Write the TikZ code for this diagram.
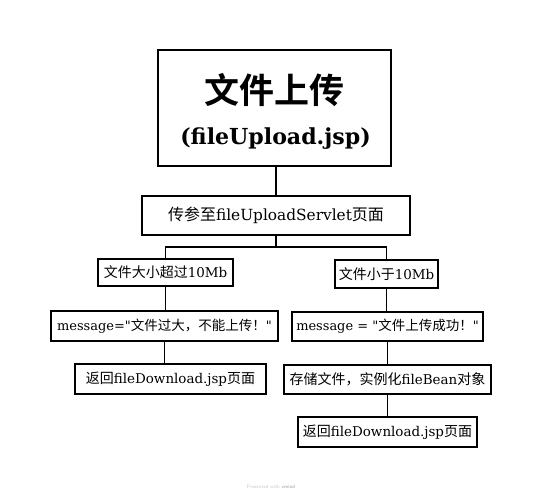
\documentclass[tikz,border=0pt]{standalone}
\usepackage{fontspec}
\setmainfont{DejaVu Serif}[Scale=0.96]
\newfontfamily\qfont{DejaVu Serif}[Scale=0.96,Ligatures=TeXOff]
\newfontfamily\cjk{Noto Sans CJK SC}
\newfontfamily\cjkbold{Noto Sans CJK SC Bold}
\newcommand{\zh}[1]{{\cjk #1}}
\newcommand{\dq}{{\qfont\symbol{34}}}
\begin{document}
\begin{tikzpicture}[x=1pt,y=-1pt,
  box/.style={draw=black, line width=1.7pt, inner sep=0pt, align=center, font=\fontsize{14}{17}\selectfont},
  msg/.style={font=\fontsize{13.5}{16}\selectfont},
  link/.style={draw=black, line width=1.7pt}]
\useasboundingbox (0,0) rectangle (542,498);
% top box
\node[box, line width=2pt, minimum width=233pt, minimum height=116pt] (top) at (274.5,108) {};
\node[font=\cjkbold\fontsize{35}{40}\selectfont] (title) at (274.5,90) {文件上传};
\node[font=\bfseries\fontsize{23}{26}\selectfont] (titlesub) at (275.5,139) {(fileUpload.jsp)};
% servlet
\node[box, minimum width=268pt, minimum height=39pt, font=\fontsize{16}{19}\selectfont] (servlet) at (276,215.5) {\zh{传参至}fileUploadServlet\zh{页面}};
\coordinate (sp) at (276,247);
% left
\node[box, minimum width=135pt, minimum height=27pt] (l1) at (165.5,272.5) {\zh{文件大小超过}10Mb};
\node[box, msg, minimum width=227pt, minimum height=30pt] (l2) at (164.5,326) {message=\dq\zh{文件过大，不能上传！}\dq};
\node[box, minimum width=191pt, minimum height=30pt] (l3) at (170.5,379) {\zh{返回}fileDownload.jsp\zh{页面}};
% right
\node[box, minimum width=103pt, minimum height=28pt] (r1) at (386.5,274) {\zh{文件小于}10Mb};
\node[box, msg, minimum width=191pt, minimum height=29pt] (r2) at (387.5,326.5) {message = \dq\zh{文件上传成功！}\dq};
\node[box, minimum width=207pt, minimum height=29pt] (r3) at (387.5,379.5) {\zh{存储文件，实例化}fileBean\zh{对象}};
\node[box, minimum width=179pt, minimum height=30pt] (r4) at (387.5,432) {\zh{返回}fileDownload.jsp\zh{页面}};
% connectors
\draw[link] (servlet.north |- top.south) -- (servlet.north);
\draw[link] (servlet.south) -- (sp);
\draw[link] (l1.north) |- (sp) -| (r1.north);
\draw[link] (l1.south) -- (l1.south |- l2.north);
\draw[link] (l2.south) -- (l2.south |- l3.north);
\draw[link] (r1.south) -- (r1.south |- r2.north);
\draw[link] (r2.south) -- (r2.south |- r3.north);
\draw[link] (r3.south) -- (r3.south |- r4.north);
% watermark
\node[font=\sffamily\fontsize{5}{6}\selectfont, text=black!22] (wm) at (271,487) {Presented with \textcolor{black!40}{xmind}};
\end{tikzpicture}
\end{document}
